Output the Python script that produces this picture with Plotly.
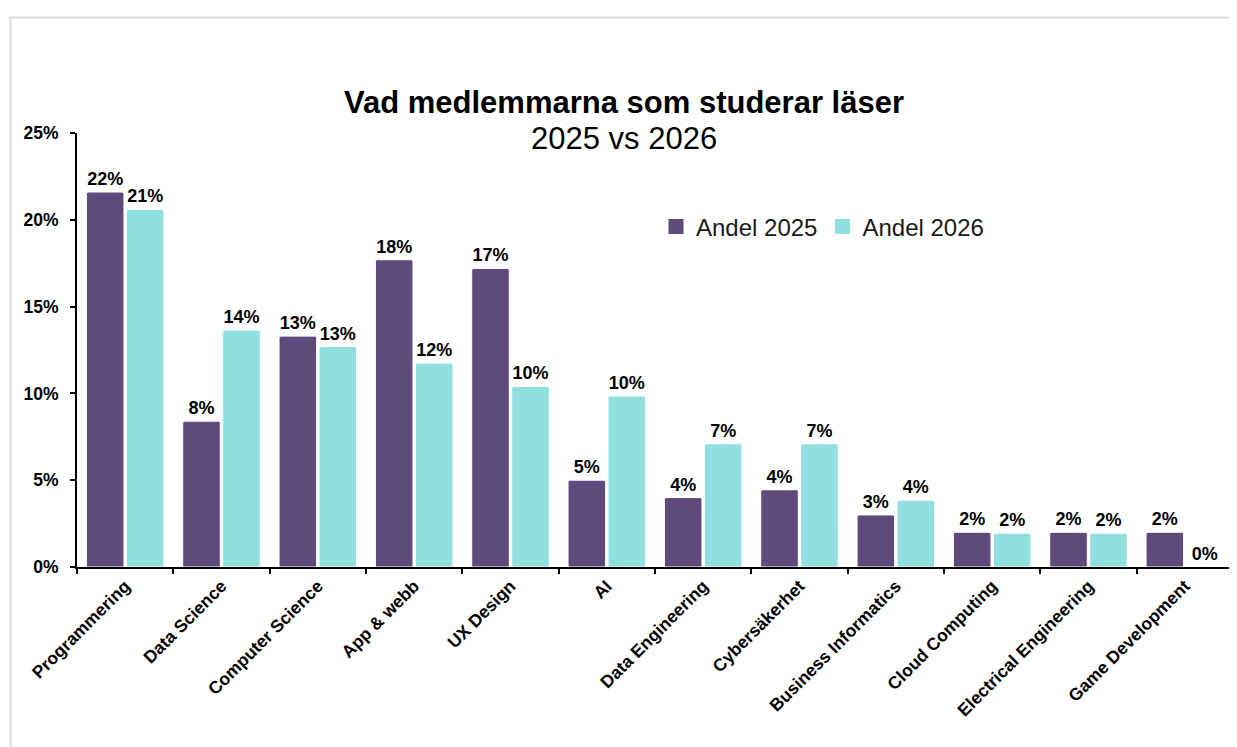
import plotly.graph_objects as go

categories = ["Programmering", "Data Science", "Computer Science", "App & webb", "UX Design", "AI",
              "Data Engineering", "Cybersäkerhet", "Business Informatics", "Cloud Computing",
              "Electrical Engineering", "Game Development"]
andel_2025 = [0.216, 0.084, 0.133, 0.177, 0.172, 0.050, 0.040, 0.0445, 0.030, 0.020, 0.020, 0.020]
andel_2026 = [0.206, 0.1365, 0.127, 0.1175, 0.104, 0.0985, 0.071, 0.071, 0.0385, 0.0195, 0.0195, 0.0]
series_names = ["Andel 2025", "Andel 2026"]
series_colors = ["#5E4A7B", "#92DFE0"]
title_line1 = "Vad medlemmarna som studerar läser"
title_line2 = "2025 vs 2026"

FONT = "Liberation Sans, Arial, sans-serif"
OFF = 8  # default page body margin
W, H = 1237 - OFF, 747 - OFF
L, R, T, B = 77 - OFF, 4, 133 - OFF, 180
pw, ph = W - L - R, H - T - B

def px_x(x):  # page pixel -> paper
    return (x - OFF - L) / pw

def px_y(y):
    return (H - B - (y - OFF)) / ph

fig = go.Figure()
for name, vals, col in zip(series_names, [andel_2025, andel_2026], series_colors):
    fig.add_trace(go.Bar(
        x=categories, y=vals, name=name, showlegend=False,
        marker=dict(color=col, line=dict(color="white", width=1), cornerradius=2),
        texttemplate="<b>%{y:.0%}</b>", textposition="outside", constraintext="none",
        textfont=dict(family=FONT, size=18, color="black"), cliponaxis=False,
    ))
# legend entries with larger square swatches
for name, col in zip(series_names, series_colors):
    fig.add_trace(go.Scatter(x=[None], y=[None], mode="markers", name=name,
                             marker=dict(symbol="square", size=15, color=col)))

fig.update_layout(
    width=W, height=H,
    margin=dict(l=L, r=R, t=T, b=B),
    paper_bgcolor="white", plot_bgcolor="white",
    barmode="group", bargap=0.17, bargroupgap=0.06,
    font=dict(family=FONT, color="black"),
    showlegend=True,
    legend=dict(orientation="h", x=px_x(656), xanchor="left", y=px_y(227), yanchor="middle",
                font=dict(family=FONT, size=24, color="#1a1a1a"), bgcolor="rgba(0,0,0,0)"),
    xaxis=dict(showline=True, linecolor="black", linewidth=2, ticks="outside", tickson="boundaries",
               ticklen=5, tickwidth=2, tickcolor="black", tickangle=-45, showgrid=False,
               tickfont=dict(family=FONT, size=17.5, color="black", weight="bold")),
    yaxis=dict(range=[0, 0.25], dtick=0.05, tickformat=".0%", showline=True, linecolor="black",
               linewidth=2, ticks="outside", ticklen=5, tickwidth=2, tickcolor="black",
               showgrid=False, zeroline=False, ticklabelstandoff=8,
               tickfont=dict(family=FONT, size=17.5, color="black", weight="bold")),
    annotations=[
        dict(text="<b>" + title_line1 + "</b>", x=px_x(624), y=px_y(103), xref="paper", yref="paper",
             showarrow=False, xanchor="center", yanchor="middle", font=dict(family=FONT, size=31, color="black")),
        dict(text=title_line2, x=px_x(624), y=px_y(138), xref="paper", yref="paper",
             showarrow=False, xanchor="center", yanchor="middle", font=dict(family=FONT, size=31, color="black")),
    ],
    shapes=[dict(type="rect", xref="paper", yref="paper", x0=px_x(10.5), y0=px_y(800), x1=px_x(1300),
                 y1=px_y(17.5), line=dict(color="#d9d9d9", width=2), fillcolor="rgba(0,0,0,0)", layer="below")],
)

fig.write_html("out.html")
